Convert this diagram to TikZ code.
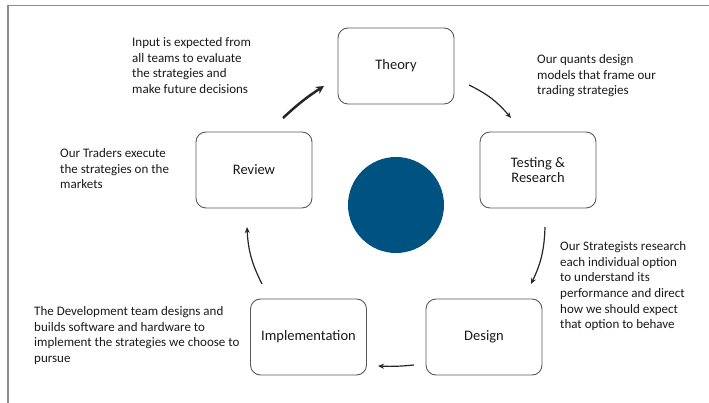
\documentclass[tikz,border=0pt]{standalone}
\usepackage{fontspec}
\setmainfont{Carlito}
\usetikzlibrary{arrows.meta}
\definecolor{cycleblue}{RGB}{0,83,128}
\definecolor{framegray}{RGB}{140,140,140}
\begin{document}
\begin{tikzpicture}[x=1pt,y=-1pt]
	 \tikzstyle{stage}=[draw=black!65,line width=0.9pt,rounded corners=10pt,minimum width=116pt,minimum height=76pt,align=center,font=\fontsize{14.5}{15.5}\selectfont,text=black!90]
	 \tikzstyle{note}=[anchor=north west,inner sep=0pt,align=left,font=\fontsize{13}{15.6}\selectfont,text=black!90]
	 \tikzstyle{flow}=[draw,line width=1.2pt,-{Stealth[length=6pt,width=5pt]},black!85]
	 \tikzstyle{main flow}=[flow,line width=2.5pt,-{Stealth[length=8pt,width=8pt]}]
	 \useasboundingbox (0,0) rectangle (709,403);
	 \draw[framegray,line width=1.3pt] (8,403) -- (8,5.5) -- (709,5.5);
	 \node[stage] (theory) at (396,66) {Theory};
	 \node[stage] (testing) at (538,170) {Testing \&\\Research};
	 \node[stage] (review) at (254,170) {Review};
	 \node[stage] (impl) at (308.5,337) {Implementation};
	 \node[stage] (design) at (484,337) {Design};
	 \node[circle,fill=cycleblue,minimum size=96pt,inner sep=0pt] (core) at (396,205) {};
	 \node[note] (inputnote) at (132,37.5) {Input is expected from\\all teams to evaluate\\the strategies and\\make future decisions};
	 \node[note] (quantnote) at (537,54.5) {Our quants design\\models that frame our\\trading strategies};
	 \node[note] (tradernote) at (60,148.5) {Our Traders execute\\the strategies on the\\markets};
	 \node[note] (devnote) at (34,306.5) {The Development team designs and\\builds software and hardware to\\implement the strategies we choose to\\pursue};
	 \node[note] (stratnote) at (560,241.5) {Our Strategists research\\each individual option\\to understand its\\performance and direct\\how we should expect\\that option to behave};
	 \coordinate (r2t) at (283,118); \coordinate (t2r) at (324,86);
	 \coordinate (t2s) at (469,85);  \coordinate (s2t) at (511,118);
	 \coordinate (s2d) at (545,227); \coordinate (d2s) at (531,284);
	 \coordinate (d2i) at (414,365); \coordinate (i2d) at (378,366);
	 \coordinate (i2r) at (262,284); \coordinate (r2i) at (247,227);
	 \draw[main flow] (r2t) to[bend left=5] (t2r);
	 \draw[flow] (t2s) to[bend left=12] (s2t);
	 \draw[flow] (s2d) to[bend left=12] (d2s);
	 \draw[flow] (d2i) to[bend left=4] (i2d);
	 \draw[flow] (i2r) to[bend left=12] (r2i);
 \end{tikzpicture}
\end{document}
